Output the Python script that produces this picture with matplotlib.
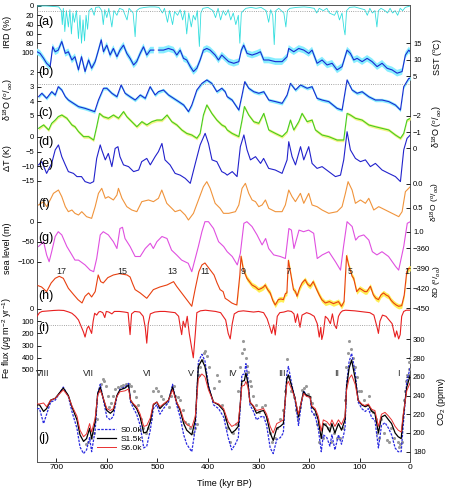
import numpy as np
import matplotlib
matplotlib.use('Agg')
import matplotlib.pyplot as plt

plt.rcParams['font.family'] = ['Liberation Sans', 'DejaVu Sans']
plt.rcParams['mathtext.fontset'] = 'custom'
plt.rcParams['mathtext.rm'] = 'Liberation Sans'
plt.rcParams['mathtext.it'] = 'Liberation Sans:italic'
plt.rcParams['mathtext.bf'] = 'Liberation Sans:bold'

# ---------------- data (time in kyr BP) ----------------
ird_t = [738, 720, 705, 695, 690, 688, 686, 683, 680, 676, 673, 670, 667, 664, 660, 656, 653, 650, 647, 644, 641, 638, 635, 630, 625, 622, 615, 610, 607, 604, 600, 596, 590, 586, 580, 575, 568, 560, 556, 548, 544, 541, 535, 525, 515, 505, 497, 490, 486, 480, 476, 470, 466, 460, 455, 450, 446, 442, 438, 433, 429, 425, 421, 417, 414, 410, 400, 390, 385, 380, 375, 370, 365, 360, 355, 350, 345, 340, 337, 334, 330, 325, 315, 305, 295, 285, 280, 276, 272, 269, 266, 260, 250, 246, 243, 238, 225, 210, 200, 190, 185, 180, 172, 165, 160, 150, 145, 140, 135, 131, 129, 126, 120, 110, 100, 90, 85, 80, 75, 70, 66, 63, 58, 50, 45, 40, 35, 30, 25, 20, 15, 10, 0]
ird_v = [0, 0, 1, 2, 10, 40, 5, 55, 10, 45, 8, 60, 15, 35, 10, 70, 20, 80, 30, 75, 20, 50, 10, 5, 20, 3, 2, 10, 40, 8, 25, 5, 45, 10, 20, 5, 8, 30, 5, 15, 66, 10, 5, 3, 2, 2, 3, 15, 5, 35, 10, 40, 12, 20, 8, 30, 10, 60, 15, 45, 20, 30, 10, 87, 15, 5, 3, 10, 25, 5, 30, 10, 20, 8, 30, 15, 40, 20, 80, 15, 10, 5, 3, 5, 3, 10, 35, 8, 20, 83, 10, 5, 15, 45, 10, 5, 3, 2, 3, 5, 15, 5, 10, 5, 15, 20, 10, 30, 15, 50, 62, 10, 3, 2, 5, 8, 20, 5, 15, 10, 45, 10, 5, 10, 15, 5, 15, 10, 20, 5, 10, 3, 0]

sst_t = [738, 732, 725, 719, 712, 707, 702, 696, 689, 682, 676, 669, 663, 656, 650, 643, 636, 630, 623, 616.5, 611, 606.6, 600, 593.5, 587, 580, 574, 567, 560.5, 554, 547, 541, 534, 527.5, 521, 514, 507, 505, 498, 488, 478, 468, 461.6, 455, 448.4, 442, 435, 428.7, 422, 415.5, 409, 402.3, 395.7, 385.8, 379.3, 372.7, 366, 359, 349, 339, 334, 329.3, 322.7, 312.8, 303, 296.3, 289.7, 279.8, 266.7, 253.5, 243.6, 240.3, 230.4, 220.5, 210.6, 200.8, 194.2, 184.3, 174.4, 164.5, 154.6, 144.8, 134.9, 125, 118.4, 111.8, 105.2, 95.3, 85.4, 75.5, 65.7, 55.8, 45.9, 36, 26.1, 16.2, 9.7, 3, 0]
sst_v = [12.5, 12.0, 10.5, 9.0, 8.0, 14.0, 12.5, 13.0, 15.6, 12.0, 12.5, 10.0, 11.0, 7.0, 11.0, 6.5, 10.0, 7.5, 9.5, 13.0, 16.1, 12.5, 14.5, 11.5, 13.5, 11.0, 13.0, 14.5, 12.0, 10.5, 8.5, 9.5, 12.0, 14.0, 11.5, 13.0, 13.0, np.nan, 13.0, 13.0, 13.5, 13.0, 11.5, 13.0, 10.5, 10.0, 8.0, 6.5, 7.5, 10.0, 13.0, 13.5, 13.0, 11.5, 10.0, 11.5, 10.5, 9.5, 9.0, 9.5, 13.0, 14.5, 12.0, 11.5, 12.0, 12.5, 10.0, 10.0, 9.5, 9.5, 11.0, 13.5, 12.5, 13.5, 13.0, 12.0, 13.0, 9.0, 10.0, 8.5, 9.0, 7.0, 8.0, 13.0, 12.0, 10.0, 10.5, 9.5, 10.5, 9.5, 8.0, 9.0, 7.5, 7.0, 6.0, 6.5, 11.5, 13.0, 12.5]

bd18_t = [735, 728.5, 719, 709, 702, 696, 689, 682, 676, 666, 656, 643, 633, 624, 616.5, 606.6, 600, 590, 580, 571.7, 563.8, 554, 544, 534, 524, 514.4, 504.5, 498, 488, 478, 468, 458, 448, 438.6, 432, 422, 412, 402.3, 392.4, 382.5, 372.7, 366, 362, 352.3, 339, 332.6, 327.3, 319.4, 309.5, 299.6, 289.7, 279.8, 266.7, 253.5, 243.6, 237, 227, 217.2, 204, 194.2, 184.3, 174.4, 161.2, 144.8, 134.9, 125, 115.1, 105.2, 95.3, 82.1, 69, 55.8, 42.6, 29.4, 19.5, 13, 3, 0]
bd18_v = [3.69, 3.45, 3.8, 3.34, 3.57, 2.99, 3.22, 3.69, 3.92, 4.15, 4.38, 4.5, 4.62, 4.73, 3.92, 3.1, 3.1, 3.45, 3.69, 2.87, 3.45, 3.69, 3.92, 3.57, 3.8, 2.99, 3.57, 3.34, 3.22, 3.57, 3.8, 4.03, 4.27, 4.73, 4.27, 3.22, 2.76, 2.52, 2.76, 3.34, 3.1, 3.34, 3.69, 3.92, 4.62, 3.57, 2.64, 3.1, 3.34, 3.45, 3.34, 3.92, 4.03, 4.15, 3.57, 2.76, 3.22, 2.87, 3.1, 2.99, 3.8, 3.92, 4.03, 4.5, 4.62, 2.52, 3.22, 3.45, 3.34, 3.69, 3.92, 3.92, 4.03, 4.27, 4.62, 2.99, 2.41, 2.41]

id18_t = [735, 725, 715, 709, 702, 696, 689, 679, 669, 663, 656, 646, 636, 626, 620, 614.5, 607, 597, 587, 577, 567, 560.5, 550.6, 540.7, 530.8, 521, 511, 501, 491, 481, 471.5, 461.6, 451.7, 442, 432, 422, 415.5, 409, 402.3, 392.4, 382.5, 372.7, 366, 362, 352.3, 339, 332.6, 328, 319.4, 309.5, 299.6, 289.7, 279.8, 266.7, 253.5, 243.6, 237, 230.4, 220.5, 214, 204, 194.2, 187.6, 174.4, 161.2, 144.8, 131.6, 125, 118.4, 108.5, 95.3, 82.1, 69, 55.8, 42.6, 29.4, 19.5, 13, 6.4, 0]
id18_v = [-1.24, -1.45, -1.14, -1.55, -1.75, -1.96, -2.06, -1.86, -1.45, -1.34, -1.04, -0.73, -0.73, -0.52, -1.34, -2.16, -1.96, -1.86, -2.06, -1.86, -2.27, -1.96, -1.65, -1.34, -1.65, -1.45, -1.65, -1.75, -1.75, -2.06, -1.65, -1.45, -1.14, -0.93, -0.83, -0.63, -0.93, -2.06, -2.68, -2.16, -1.75, -1.45, -1.34, -1.14, -0.93, -0.73, -1.75, -2.58, -2.06, -1.65, -1.55, -2.16, -1.14, -0.93, -0.73, -1.04, -1.75, -1.14, -1.65, -2.16, -1.65, -1.75, -1.14, -0.83, -0.73, -0.52, -0.52, -2.16, -2.06, -1.86, -1.75, -1.45, -1.34, -1.24, -1.14, -0.83, -0.63, -0.93, -1.75, -1.86]

dT_t = [735, 728.5, 719, 709, 702, 695.6, 689, 682, 676, 666, 659, 650, 643, 633, 626, 620, 613, 610, 603, 597, 590, 583.5, 578, 574, 567, 557, 547, 537, 531, 521, 514, 504.5, 498, 491, 485, 475, 465, 455, 445, 435, 425, 415.5, 405.6, 399, 392, 382.5, 372.7, 366, 362, 352, 342.5, 336, 329, 322.7, 316, 306, 296, 290, 280, 267, 253.5, 243.6, 240.3, 233.7, 227, 217, 210.6, 200.8, 194.2, 184.3, 174.4, 161.2, 148, 138, 131.6, 125, 118.4, 108.5, 98.6, 88.7, 78.9, 69, 55.8, 42.6, 29.4, 19.5, 13, 6.4, 0]
dT_v = [-9.5, -8.4, -12.4, -9, -4.4, -2.7, -6.7, -9.5, -11.8, -12.4, -13.5, -13.5, -15.2, -15.8, -15.2, -7.3, -2.7, -4.4, -7.8, -5.6, -10.1, -3.9, -3.3, -6.7, -9.5, -10.1, -11.8, -11.25, -8.4, -7.3, -9.5, -6.7, -5, -2.2, -7.8, -9.5, -12.4, -13, -14.1, -15.8, -9, -2.7, 1.25, -2.2, -7.8, -8.4, -11.8, -12.4, -13, -11.8, -13.5, -3.3, 0.7, -4.4, -7.8, -6.7, -9, -7.3, -10.7, -11.25, -12.4, -7.8, -1.6, -6.7, -9.5, -3.3, -7.8, -3.3, -9, -10.7, -10.1, -11.8, -13.5, -13, -7.8, 1.8, -4.4, -7.3, -8.4, -7.8, -10.1, -9, -11.25, -12.4, -13.5, -15.2, -4.4, -0.45, 0.68]

sd18_t = [735, 725, 719, 712, 705.5, 695.6, 689, 682, 676, 669, 663, 656, 649.5, 640, 630, 623, 616.5, 610, 603, 597, 587, 580, 577, 570, 560.5, 550.6, 540.7, 530.8, 517.6, 507.8, 497.9, 491.3, 481.4, 471.5, 465, 455, 445, 438.6, 428.7, 418.8, 409, 402.3, 395.7, 385.8, 376, 369.3, 359, 345.7, 339, 332.6, 326, 319.4, 312.8, 306, 299.6, 293, 286.4, 279.8, 266.7, 253.5, 247, 240.3, 233.7, 227.1, 217.2, 210.6, 200.8, 194.2, 184.3, 174.4, 161.2, 144.8, 134.9, 128.3, 123, 115.1, 108.5, 98.6, 88.7, 82.1, 72.2, 62.4, 49.2, 36, 22.8, 16.2, 9.7, 0]
sd18_v = [0.44, 0.37, 0.475, 0.335, 0.196, 0.126, 0.266, 0.475, 0.58, 0.545, 0.615, 0.65, 0.58, 0.685, 0.72, 0.475, 0.196, 0.091, 0.3, 0.266, 0.335, 0.231, 0.091, 0.3, 0.475, 0.545, 0.58, 0.37, 0.335, 0.37, 0.3, 0.126, 0.405, 0.51, 0.58, 0.545, 0.65, 0.755, 0.615, 0.335, 0.056, -0.049, 0.091, 0.405, 0.51, 0.615, 0.615, 0.58, 0.44, 0.091, -0.014, 0.196, 0.335, 0.37, 0.475, 0.44, 0.335, 0.51, 0.58, 0.58, 0.44, 0.126, 0.266, 0.37, 0.196, 0.405, 0.196, 0.44, 0.475, 0.545, 0.615, 0.58, 0.475, 0.196, -0.049, 0.126, 0.405, 0.335, 0.405, 0.3, 0.545, 0.475, 0.545, 0.615, 0.685, 0.58, 0.161, 0.056]

sl_t = [735, 725, 719, 714, 709, 702, 696, 689, 679, 669, 663, 656, 643, 633, 626, 620, 613, 607, 597, 587, 580, 574, 569, 564, 554, 544, 534, 524, 514, 508, 501, 491, 481, 472, 462, 452, 439, 432, 419, 412, 406, 399, 389, 379, 369, 362, 352, 342, 336, 329, 323, 313, 303, 293, 286, 280, 270, 257, 247, 240, 235, 230, 220, 211, 201, 191, 184, 174, 161, 148, 138, 132, 125, 115, 108, 102, 92, 82, 75, 66, 56, 43, 29, 23, 13, 6, 0]
sl_v = [-62, -50, -83, -100, -75, -37, -25, -33, -62, -83, -96, -96, -108, -121, -125, -92, -33, -25, -33, -50, -67, -17, -14, -42, -62, -87, -87, -67, -54, -67, -50, -37, -42, -71, -83, -96, -104, -125, -62, -25, 0, 0, -17, -50, -62, -75, -87, -108, -79, -4, 0, -12, -33, -58, -42, -67, -83, -87, -92, -17, -21, -67, -21, -25, -21, -29, -92, -83, -75, -100, -121, -62, 0, -12, -46, -37, -33, -46, -75, -83, -75, -87, -112, -121, -62, -4, 0]

dD_t = [736, 729, 719, 710, 702, 694, 686, 676, 665, 657, 649, 643, 636, 630, 623, 617, 612, 607, 598, 587, 575, 560, 554, 549, 544, 534, 521, 508, 495, 481, 468, 462, 452, 442, 432, 425, 418, 412, 406, 400, 396, 388, 382, 376, 370, 366, 360, 353, 347, 343, 337, 334.6, 330, 323, 313, 306, 300, 294, 290, 287, 282, 277, 272, 267, 261, 256, 251, 247, 244, 241, 236, 231, 227, 224, 219, 214, 208, 203, 198, 192, 185, 180, 175, 168, 160, 152, 142, 136, 131, 126, 122, 119, 115, 112, 106, 100, 96, 90, 86, 79, 73, 68, 63, 58, 53, 48, 43, 38, 33, 28, 23, 17, 12, 7, 3, 0]
dD_v = [-416, -418, -425, -412, -405, -402, -405, -420, -430, -437, -442, -432, -427, -433, -425, -400, -410, -412, -404, -400, -398, -400, -403, -413, -422, -427, -435, -422, -418, -415, -410, -417, -427, -437, -447, -420, -395, -385, -382, -388, -392, -400, -412, -422, -425, -435, -438, -442, -444, -445, -400, -372, -392, -405, -415, -418, -422, -420, -418, -415, -422, -427, -438, -445, -437, -436, -437, -428, -427, -378, -400, -422, -425, -432, -420, -412, -407, -414, -417, -410, -422, -430, -437, -442, -440, -443, -440, -447, -440, -371, -385, -392, -402, -405, -425, -420, -422, -425, -425, -417, -430, -435, -437, -430, -427, -430, -432, -438, -442, -445, -447, -446, -430, -395, -390, -390]

fe_t = [738, 733, 728, 715, 705, 695, 685, 675, 669, 662, 656, 650, 646, 643, 639, 636, 633, 630, 627, 624, 620, 616, 613, 608, 604, 601, 596, 590, 585, 575, 565, 558, 554, 551, 545, 535, 528, 524, 521, 518, 514, 505, 495, 485, 475, 465, 458, 455, 452, 449, 445, 441, 437, 433, 429, 425, 422, 415, 405, 395, 385, 375, 370, 365, 360, 356, 352, 348, 340, 330, 320, 310, 300, 290, 283, 278, 274, 270, 267, 263, 258, 250, 242, 235, 230, 227, 223, 218, 214, 205, 198, 190, 184, 180, 177, 175, 172, 168, 163, 158, 154, 150, 146, 142, 138, 134, 128, 120, 110, 100, 90, 80, 72, 66, 63, 60, 55, 48, 42, 36, 30, 27, 23, 20, 17, 13, 8, 0]
fe_v = [60, 30, 20, 15, 12, 10, 12, 25, 35, 60, 90, 150, 190, 230, 160, 140, 170, 200, 100, 35, 50, 25, 20, 30, 70, 20, 25, 40, 20, 20, 25, 30, 210, 40, 20, 25, 60, 150, 280, 120, 40, 25, 20, 20, 25, 30, 60, 140, 210, 100, 150, 60, 200, 300, 400, 200, 30, 15, 10, 15, 20, 30, 60, 90, 200, 245, 120, 40, 20, 15, 20, 25, 20, 30, 80, 145, 200, 130, 213, 60, 30, 25, 15, 20, 40, 110, 40, 150, 50, 30, 40, 60, 120, 230, 150, 250, 200, 60, 80, 120, 40, 130, 160, 60, 30, 15, 10, 12, 15, 20, 25, 30, 50, 145, 200, 100, 50, 60, 90, 120, 230, 180, 245, 210, 60, 20, 10, 10]

co2_t = [738, 733, 725, 719, 711, 702, 686, 676, 669, 659, 653, 646, 640, 634, 630, 623, 618, 613, 607, 600, 593, 587, 580, 574, 564, 557, 553, 547, 541, 534, 527, 521, 514, 508, 501, 495, 488, 478, 470, 462, 455, 448, 442, 432, 425, 419, 412, 406, 399, 389, 379, 369, 360, 353, 346, 340, 336, 333, 328, 325, 321, 317, 310, 304, 297, 290, 284, 277, 271, 264, 257, 251, 244, 241, 234, 228, 221, 216, 211, 205, 198, 195, 188, 182, 176, 172, 165, 159, 155, 149, 142, 136, 129, 126, 121, 116, 109, 103, 96, 89, 83, 76, 70, 63, 57, 50, 43, 37, 30, 24, 18, 14, 7, 0]
co2_s15 = [230, 230, 223, 226, 235, 237, 248, 240, 228, 214, 198, 191, 194, 205, 194, 212, 242, 249, 237, 224, 221, 224, 240, 246, 248, 251, 235, 230, 226, 217, 200, 201, 212, 230, 233, 226, 230, 235, 249, 233, 224, 210, 203, 198, 214, 271, 278, 271, 249, 233, 230, 224, 207, 200, 203, 207, 232, 255, 256, 264, 253, 233, 228, 221, 223, 224, 217, 200, 192, 205, 207, 210, 258, 262, 249, 237, 217, 232, 244, 240, 239, 228, 224, 214, 194, 210, 207, 201, 210, 200, 210, 203, 214, 249, 269, 278, 258, 235, 230, 228, 230, 223, 221, 200, 217, 219, 214, 210, 200, 196, 194, 217, 249, 262]
co2_s00 = [226, 226, 210, 220, 233, 235, 249, 239, 223, 205, 185, 178, 182, 195, 180, 203, 242, 252, 236, 217, 214, 218, 239, 247, 249, 253, 233, 226, 220, 208, 184, 186, 203, 226, 230, 220, 226, 233, 252, 230, 217, 198, 188, 180, 205, 276, 284, 277, 251, 230, 226, 217, 195, 182, 188, 195, 229, 262, 263, 274, 258, 230, 223, 214, 217, 218, 208, 184, 178, 193, 195, 200, 264, 271, 251, 236, 208, 229, 245, 240, 238, 223, 218, 205, 180, 198, 195, 186, 198, 182, 198, 188, 205, 252, 276, 285, 265, 233, 226, 223, 226, 216, 214, 184, 208, 211, 205, 198, 184, 180, 180, 208, 255, 270]
co2_s60 = [231, 231, 232, 228, 235, 237, 246, 239, 229, 218, 203, 196, 199, 210, 201, 216, 240, 246, 237, 226, 224, 226, 239, 244, 245, 247, 235, 231, 228, 220, 207, 208, 216, 231, 233, 228, 231, 235, 246, 233, 226, 214, 209, 206, 218, 258, 263, 260, 246, 233, 231, 226, 212, 207, 209, 212, 232, 250, 251, 255, 249, 233, 229, 224, 225, 226, 220, 207, 200, 210, 212, 214, 252, 255, 246, 237, 220, 232, 242, 239, 238, 229, 226, 218, 202, 214, 212, 208, 214, 207, 214, 209, 218, 246, 258, 262, 252, 235, 231, 229, 231, 225, 224, 207, 220, 222, 218, 214, 207, 203, 201, 220, 245, 254]

obs_t = [1, 2, 3, 5, 7, 9, 11, 13, 17, 20, 22, 25, 32, 38, 43, 47, 52, 58, 62, 65, 68, 73, 78, 82, 87, 92, 97, 102, 106, 110, 114, 118, 121, 124, 127, 130, 134, 138, 145, 150, 157, 163, 168, 173, 180, 185, 190, 195, 199, 203, 207, 210, 214, 218, 222, 226, 230, 235, 240, 243, 248, 252, 258, 263, 268, 273, 278, 283, 288, 294, 300, 305, 310, 314, 317, 320, 322, 325, 328, 330, 333, 336, 340, 345, 350, 356, 362, 367, 372, 378, 383, 388, 398, 402, 405, 408, 411, 415, 418, 422, 426, 430, 435, 440, 445, 450, 455, 460, 465, 468, 473, 478, 483, 488, 493, 498, 503, 508, 512, 518, 523, 528, 533, 538, 542, 546, 552, 557, 562, 567, 572, 578, 584, 588, 592, 595, 598, 602, 605, 608, 611, 615, 620, 625, 632, 637, 642]
obs_v = [280, 276, 268, 262, 262, 255, 245, 235, 190, 188, 185, 190, 195, 205, 190, 192, 200, 215, 195, 200, 215, 222, 225, 240, 230, 235, 245, 245, 260, 270, 280, 290, 298, 285, 270, 235, 205, 195, 195, 200, 190, 205, 210, 195, 190, 210, 220, 232, 238, 242, 250, 248, 246, 228, 215, 225, 238, 245, 260, 279, 245, 225, 215, 205, 195, 190, 200, 215, 230, 228, 222, 230, 240, 250, 255, 265, 272, 280, 290, 298, 285, 270, 245, 210, 200, 190, 205, 215, 230, 255, 262, 248, 270, 282, 287, 285, 278, 270, 262, 210, 205, 200, 205, 210, 212, 225, 235, 238, 240, 250, 240, 228, 232, 236, 240, 245, 248, 245, 215, 205, 200, 205, 215, 230, 238, 245, 250, 252, 252, 251, 250, 249, 247, 240, 232, 228, 240, 250, 255, 258, 252, 245, 215, 200, 195, 190, 188]

mis_labels = ['17', '15', '13', '11', '9', '7', '5', '1']
mis_t = [690, 570, 471, 406, 330, 242, 119, 6]
term_labels = ['VIII', 'VII', 'VI', 'V', 'IV', 'III', 'II', 'I']
term_t = [726, 637, 520, 433, 352, 253, 145, 24]

# ---------------- layout ----------------
FW, FH = 449, 493
X0, X1 = 37.0, 410.3
YT, YB = 5.5, 461.7
TMAX = 738
fig = plt.figure(figsize=(FW / 100, FH / 100), dpi=100)
rect = [X0 / FW, 1 - YB / FH, (X1 - X0) / FW, (YB - YT) / FH]
TS = 5.5

main = fig.add_axes(rect)
main.set_xlim(TMAX, 0)
main.set_ylim(0, 1)
main.set_yticks([])
main.set_xticks([700, 600, 500, 400, 300, 200, 100, 0])
main.tick_params(axis='x', direction='in', length=3, labelsize=6, pad=2, width=0.6)
for s in main.spines.values():
    s.set_linewidth(0.7)
    s.set_color('#555555')


def band(va, pa, vb, pb, side, ticks, labels=None):
    ax = fig.add_axes(rect)
    ax.set_xlim(TMAX, 0)
    ax.patch.set_visible(False)
    for s in ax.spines.values():
        s.set_visible(False)
    k = (vb - va) / (pb - pa)
    ax.set_ylim(va + (YB - pa) * k, va + (YT - pa) * k)
    ax.tick_params(axis='x', bottom=False, labelbottom=False, top=False, labeltop=False)
    left = side == 'left'
    ax.tick_params(axis='y', left=left, labelleft=left, right=not left, labelright=not left,
                   direction='in', length=3, width=0.6, labelsize=TS, pad=2)
    ax.set_yticks(ticks)
    if labels is not None:
        ax.set_yticklabels(labels)
    return ax


def ylab(x, y, s, size=6.5):
    fig.text(x / FW, 1 - y / FH, s, rotation=90, ha='center', va='center', fontsize=size)


def plab(y, s):
    fig.text(38 / FW, 1 - y / FH, s, ha='left', va='center', fontsize=9)


# (a) IRD
ax_a = band(0, 6, 100, 52.5, 'left', [0, 20, 40, 60, 80, 100])
ax_a.plot(ird_t, ird_v, color='#33dede', lw=0.6)
ax_a.axhline(10.7, color='#888888', ls=':', lw=0.6)

# (b) SST
ax_b = band(15, 43.5, 5, 76.5, 'right', [5, 10, 15])
sv = np.array(sst_v)
ax_b.fill_between(sst_t, sv - 1.0, sv + 1.0, color='#88eeff', lw=0)
ax_b.plot(sst_t, sst_v, color='#1a2ad0', lw=0.8)

# (c) benthic d18O
ax_c = band(2, 72.5, 5, 115.5, 'left', [2, 3, 4, 5])
cv = np.array(bd18_v)
ax_c.fill_between(bd18_t, cv - 0.12, cv + 0.12, color='#88eeff', lw=0)
ax_c.plot(bd18_t, bd18_v, color='#1a2ad0', lw=0.8)
ax_c.axhline(2.8, color='#888888', ls=':', lw=0.6)

# (d) d18O
ax_d = band(-2, 116, 0, 148.5, 'right', [-2, -1, 0])
dv = np.array(id18_v)
ax_d.fill_between(id18_t, dv - 0.1, dv + 0.1, color='#f4f488', lw=0)
ax_d.plot(id18_t, id18_v, color='#44cc22', lw=0.8)

# (e) Delta T
ax_e = band(0, 137, -15, 181, 'left', [0, -5, -10, -15])
ax_e.plot(dT_t, dT_v, color='#2222cc', lw=0.8)

# (f) d18O
ax_f = band(0, 184, 1, 231.7, 'right', [0, 0.5, 1.0], ['0.0', '0.5', '1.0'])
ax_f.plot(sd18_t, sd18_v, color='#f0943c', lw=0.8)

# (g) sea level
ax_g = band(0, 221.7, -100, 261.7, 'left', [0, -50, -100])
ax_g.plot(sl_t, sl_v, color='#e050e0', lw=0.8)

# (h) dD
ax_h = band(-360, 248.3, -450, 308.3, 'right', [-360, -390, -420, -450])
ht = np.array(dD_t, dtype=float)
hv = np.array(dD_v, dtype=float)
m = ht <= 345
ax_h.fill_between(ht[m], hv[m] - 4, hv[m] + 4, color='#ffee55', lw=0)
ax_h.plot(dD_t, dD_v, color='#e84010', lw=0.8)
for s, t in zip(mis_labels, mis_t):
    ax_h.text(t, -395.5, s, ha='center', va='center', fontsize=6.5, color='#222222')

# (i) Fe flux
ax_i = band(0, 309, 500, 370, 'left', [0, 100, 200, 300, 400, 500])
ax_i.plot(fe_t, fe_v, color='#e82020', lw=0.8)
ax_i.axhline(130, color='#888888', ls=':', lw=0.6)

# (j) CO2
ax_j = band(300, 339.3, 180, 451.7, 'right', [180, 200, 220, 240, 260, 280, 300])
ax_j.scatter(obs_t, obs_v, s=5, color='#999999', lw=0, zorder=1)
l0, = ax_j.plot(co2_t, co2_s00, color='#2a2ae0', lw=0.9, ls=(0, (2, 1)), label='S0.0k', zorder=2)
l1, = ax_j.plot(co2_t, co2_s15, color='black', lw=0.9, label='S1.5k', zorder=3)
l2, = ax_j.plot(co2_t, co2_s60, color='#e83030', lw=0.7, label='S6.0k', zorder=4)
for s, t in zip(term_labels, term_t):
    ax_j.text(t, 264, s, ha='center', va='center', fontsize=6.5, color='#222222')
ax_j.legend(handles=[l0, l1, l2], loc='upper left', bbox_to_anchor=(97 / FW, 1 - 426 / FH),
            bbox_transform=fig.transFigure, frameon=False, fontsize=6, handlelength=2.3,
            labelspacing=0.15, handletextpad=0.5, borderpad=0, borderaxespad=0)

# panel letters
for y, s in [(22, '(a)'), (72, '(b)'), (113, '(c)'), (141.5, '(d)'), (163.5, '(e)'),
             (203.5, '(f)'), (237.5, '(g)'), (296.5, '(h)'), (328, '(i)'), (438, '(j)')]:
    plab(y, s)

# axis labels
ylab(7, 32, 'IRD (%)')
ylab(8, 100, 'δ$^{18}$O ($^o/_{oo}$)')
ylab(8, 158, 'ΔT (K)')
ylab(8, 248, 'sea level (m)')
ylab(7, 338, 'Fe flux ($\\mu$g m$^{-2}$ yr$^{-1}$)')
ylab(437, 57, 'SST ($^o$C)')
ylab(437, 127, 'δ$^{18}$O ($^o/_{oo}$)')
ylab(435, 202, 'δ$^{18}$O ($^o/_{oo}$)', 6)
ylab(438, 282, 'δD ($^o/_{oo}$)', 6)
ylab(441, 401, 'CO$_2$ (ppmv)')
fig.text(224 / FW, 1 - 484 / FH, 'Time (kyr BP)', ha='center', va='center', fontsize=6.5)

fig.savefig('out.png', dpi=100)
